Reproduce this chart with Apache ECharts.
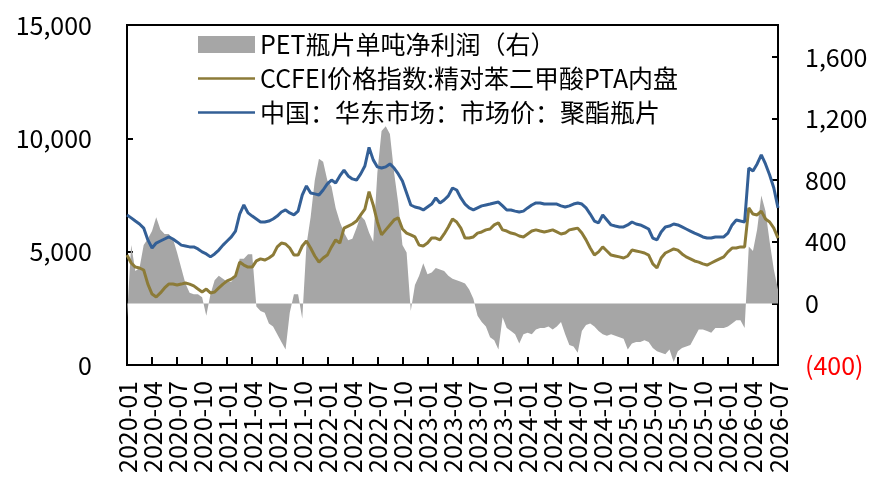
<!DOCTYPE html>
<html>
<head>
<meta charset="utf-8">
<script src="https://cdn.jsdelivr.net/npm/echarts@6/dist/echarts.min.js"></script>
<style>
  html, body { margin: 0; padding: 0; background: #fff; }
  #main { width: 873px; height: 485px; }
</style>
</head>
<body>
<div id="main"></div>
<script>
// 半月取样的日期类目 2020-01-01 ... 2026-07-01
var dates = [];
for (var i = 0; i < 157; i++) {
  var m = Math.floor(i / 2);
  var mm = (m % 12) + 1;
  dates.push((2020 + Math.floor(m / 12)) + '-' + (mm < 10 ? '0' + mm : mm) + (i % 2 ? '-16' : '-01'));
}

// 中国：华东市场：市场价：聚酯瓶片（左轴）
var bottlePrice = [
  6620,6490,6350,6220,6040,5520,5160,5380,5470,5560,5650,5560,
  5430,5290,5250,5210,5210,5120,4990,4900,4770,4900,5070,5290,
  5470,5650,5910,6660,7060,6710,6570,6440,6310,6310,6350,6440,
  6570,6750,6840,6710,6620,6790,7500,7900,7590,7550,7500,7720,
  7990,8160,8030,8340,8600,8340,8210,8160,8430,8780,9600,9050,
  8740,8690,8740,8870,8690,8430,8120,7590,7060,6970,6930,6840,
  6970,7100,7370,7150,7280,7460,7810,7720,7370,7100,6930,6840,
  6930,7020,7060,7100,7150,7190,7020,6840,6840,6790,6750,6790,
  6930,7060,7150,7150,7100,7100,7100,7100,7020,6970,7020,7100,
  7150,7100,6930,6660,6350,6270,6620,6400,6180,6130,6090,6090,
  6180,6310,6220,6180,6090,6000,5600,5520,5870,6090,6130,6220,
  6180,6090,6000,5910,5820,5740,5650,5600,5600,5650,5650,5650,
  5820,6180,6400,6350,6310,8690,8560,8870,9270,8870,8380,7810,
  6930
];

// CCFEI价格指数:精对苯二甲酸PTA内盘（左轴）
var ptaPrice = [
  4850,4500,4320,4280,4190,3570,3130,3000,3180,3400,3570,3570,
  3530,3570,3620,3570,3490,3350,3220,3350,3180,3220,3400,3570,
  3710,3790,3930,4540,4410,4320,4320,4590,4680,4630,4720,4850,
  5210,5380,5340,5160,4850,4850,5250,5470,5160,4810,4540,4720,
  4850,5210,5520,5380,6040,6130,6220,6350,6620,6880,7650,7060,
  6310,5740,5960,6180,6400,6490,6000,5820,5740,5650,5290,5250,
  5380,5600,5600,5520,5780,6090,6440,6310,6040,5600,5600,5650,
  5820,5870,5960,6000,6180,6270,5960,5910,5820,5780,5690,5650,
  5780,5910,5960,5910,5870,5910,5960,5870,5780,5820,5960,6000,
  6040,5820,5520,5160,4850,4990,5210,5030,4850,4810,4770,4720,
  4810,5070,5030,4990,4940,4850,4460,4280,4720,4940,5030,5120,
  5070,4900,4770,4680,4590,4540,4460,4410,4500,4590,4680,4770,
  4990,5160,5160,5210,5210,6930,6660,6620,6790,6440,6310,6040,
  5600
];

// PET瓶片单吨净利润（右轴）
var petProfit = [
  -90,380,210,230,380,420,470,560,480,450,450,420,
  330,230,130,70,60,60,40,-80,60,150,180,160,
  140,140,180,290,290,320,320,-20,-50,-60,-130,-150,
  -200,-250,-300,-60,60,60,-100,380,560,800,940,920,
  800,760,620,530,460,410,420,490,570,540,460,400,
  850,1120,1150,1100,850,650,380,330,-50,120,180,260,
  190,200,230,220,210,180,160,150,140,130,90,30,
  -80,-120,-150,-220,-240,-300,-90,-160,-180,-200,-260,-200,
  -190,-200,-170,-160,-160,-150,-170,-150,-120,-200,-270,-280,
  -320,-180,-140,-130,-150,-180,-200,-210,-200,-210,-220,-230,
  -300,-260,-250,-250,-240,-250,-290,-310,-320,-330,-300,-380,
  -310,-290,-280,-270,-220,-170,-170,-180,-190,-160,-160,-160,
  -150,-130,-110,-110,-160,370,340,480,700,600,400,220,
  90
];

var seriesNames = ['PET瓶片单吨净利润（右）', 'CCFEI价格指数:精对苯二甲酸PTA内盘', '中国：华东市场：市场价：聚酯瓶片'];

var FONT = '"Noto Sans CJK SC", "Noto Sans", sans-serif';
// 图例中的细线图标
var LINE_ICON = 'path://M0,0 L57,0 L57,2.4 L0,2.4 Z';

function thousands(v) {
  return String(Math.abs(v)).replace(/\B(?=(\d{3})+(?!\d))/g, ',');
}

var chart = echarts.init(document.getElementById('main'));
chart.setOption({
  animation: false,
  textStyle: { fontFamily: FONT },
  grid: {
    left: 127, right: 95, top: 25, bottom: 120,
    show: true, borderColor: '#000', borderWidth: 2
  },
  legend: {
    orient: 'vertical',
    left: 198,
    top: 31,
    padding: 0,
    itemWidth: 57,
    itemHeight: 17,
    itemGap: 7,
    symbolKeepAspect: true,
    textStyle: { fontSize: 25, color: '#000', fontFamily: FONT, lineHeight: 27 },
    data: [
      { name: seriesNames[0], icon: 'rect' },
      { name: seriesNames[1], icon: LINE_ICON },
      { name: seriesNames[2], icon: LINE_ICON }
    ]
  },
  xAxis: {
    type: 'category',
    data: dates,
    boundaryGap: false,
    axisLine: { lineStyle: { color: '#000', width: 2 } },
    axisTick: { inside: true, length: 8, interval: 5, lineStyle: { color: '#000', width: 2 } },
    axisLabel: {
      interval: 5,
      rotate: 90,
      margin: 16,
      fontSize: 25,
      color: '#000',
      fontFamily: FONT,
      formatter: function (v) { return v.slice(0, 7); }
    }
  },
  yAxis: [
    {
      type: 'value',
      position: 'left',
      min: 0, max: 15000, interval: 5000,
      splitLine: { show: false },
      axisLine: { show: true, lineStyle: { color: '#000', width: 2 } },
      axisTick: { show: true, inside: true, length: 6, lineStyle: { color: '#000', width: 2 } },
      axisLabel: {
        margin: 35, fontSize: 25, color: '#000', fontFamily: FONT,
        formatter: function (v) { return thousands(v); }
      }
    },
    {
      type: 'value',
      position: 'right',
      min: -400, max: 1808, interval: 400,
      splitLine: { show: false },
      axisLine: { show: true, lineStyle: { color: '#000', width: 2 } },
      axisTick: { show: true, inside: true, length: 6, lineStyle: { color: '#000', width: 2 } },
      axisLabel: {
        margin: 27, fontSize: 25, fontFamily: FONT,
        showMaxLabel: false,
        color: function (v) { return Number(v) < 0 ? '#ff0000' : '#000'; },
        formatter: function (v) {
          if (v % 400 !== 0) return '';
          return v < 0 ? '(' + thousands(v) + ')' : thousands(v);
        }
      }
    }
  ],
  series: [
    {
      name: seriesNames[0],
      type: 'line',
      yAxisIndex: 1,
      data: petProfit,
      symbol: 'none',
      lineStyle: { width: 0 },
      itemStyle: { color: '#a6a6a6' },
      areaStyle: { color: '#a6a6a6', opacity: 1 },
      z: 1
    },
    {
      name: seriesNames[1],
      type: 'line',
      yAxisIndex: 0,
      data: ptaPrice,
      symbol: 'none',
      lineStyle: { width: 3, color: '#8c7b38' },
      itemStyle: { color: '#8c7b38' },
      z: 2
    },
    {
      name: seriesNames[2],
      type: 'line',
      yAxisIndex: 0,
      data: bottlePrice,
      symbol: 'none',
      lineStyle: { width: 3, color: '#335f96' },
      itemStyle: { color: '#335f96' },
      z: 3
    }
  ]
});
</script>
</body>
</html>
